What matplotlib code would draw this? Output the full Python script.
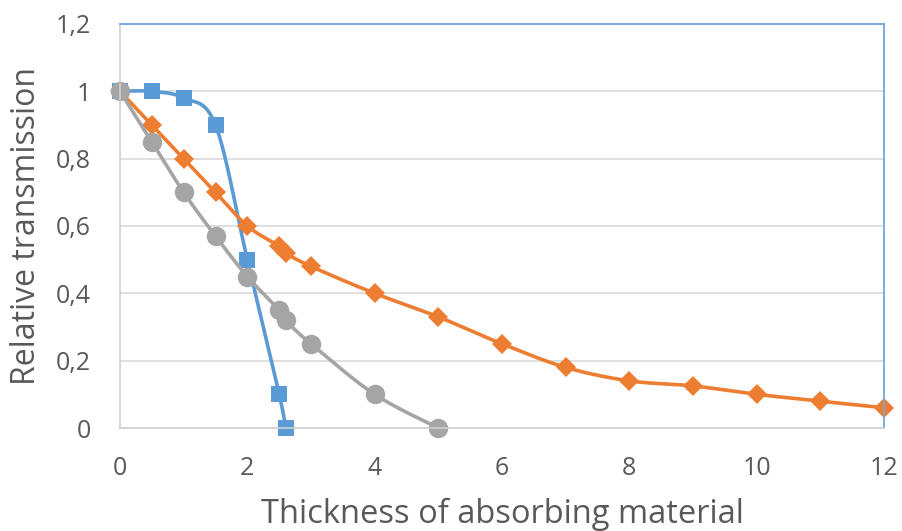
import numpy as np
import matplotlib.pyplot as plt

# Werte
x_blue = [0, 0.5, 1, 1.5, 2, 2.5, 2.6]
y_blue = [1, 1, 0.98, 0.9, 0.5, 0.1, 0]

x_orange = [0, 0.5, 1, 1.5, 2, 2.5, 2.6, 3, 4, 5, 6, 7, 8, 9, 10, 11, 12]
y_orange = [1, 0.9, 0.8, 0.7, 0.6, 0.54, 0.52, 0.48, 0.4, 0.33, 0.25, 0.18, 0.14, 0.125, 0.1, 0.08, 0.06]

x_gray = [0, 0.5, 1, 1.5, 2, 2.5, 2.6, 3, 4, 5]
y_gray = [1, 0.85, 0.7, 0.57, 0.45, 0.35, 0.32, 0.25, 0.1, 0]

y_ticks = [0, 0.2, 0.4, 0.6, 0.8, 1, 1.2]
x_ticks = [0, 2, 4, 6, 8, 10, 12]


def smooth(xs, ys, n=30):
    # Bezier-Glaettung wie in Excel (Catmull-Rom)
    p = np.column_stack([xs, ys]).astype(float)
    p = np.vstack([p[0], p, p[-1]])
    out = []
    t = np.linspace(0, 1, n)[:, None]
    for i in range(1, len(p) - 2):
        p0, p1, p2, p3 = p[i - 1], p[i], p[i + 1], p[i + 2]
        b1 = p1 + (p2 - p0) / 6
        b2 = p2 - (p3 - p1) / 6
        seg = ((1 - t) ** 3) * p1 + 3 * ((1 - t) ** 2) * t * b1 + 3 * (1 - t) * t ** 2 * b2 + t ** 3 * p2
        out.append(seg)
    c = np.vstack(out)
    return c[:, 0], c[:, 1]


plt.rcParams['font.family'] = ['Open Sans', 'DejaVu Sans']

fig = plt.figure(figsize=(9.03, 5.31), dpi=100)
ax = fig.add_axes([120 / 903, 1 - 428 / 531, 764 / 903, 404 / 531])

series = [
    (x_blue, y_blue, '#5B9BD5', 's', 11),
    (x_orange, y_orange, '#ED7D31', 'D', 10),
    (x_gray, y_gray, '#A5A5A5', 'o', 14),
]
for xs, ys, col, mk, ms in series:
    sx, sy = smooth(xs, ys)
    ax.plot(sx, sy, color=col, lw=2.6, clip_on=False, solid_capstyle='round')
    ax.plot(xs, ys, ls='none', marker=mk, color=col, markersize=ms,
            markeredgewidth=0, clip_on=False)

ax.set_xlim(0, 12)
ax.set_ylim(0, 1.2)
ax.set_xticks(x_ticks)
ax.set_yticks(y_ticks)
ax.set_xticklabels([str(v) for v in x_ticks])
ax.set_yticklabels([('%g' % v).replace('.', ',') for v in y_ticks])
ax.tick_params(length=0, labelsize=18, labelcolor='#595959')
ax.tick_params(axis='x', pad=20)
ax.tick_params(axis='y', pad=21)
ax.grid(axis='y', color='#D9D9D9', lw=1.2)
ax.set_axisbelow(True)

for s in ['left', 'bottom']:
    ax.spines[s].set_color('#D0D0D0')
    ax.spines[s].set_linewidth(1.2)
for s in ['top', 'right']:
    ax.spines[s].set_color('#6FA8DC')
    ax.spines[s].set_linewidth(1.3)

ax.set_xlabel('Thickness of absorbing material', fontsize=23.5, color='#595959', va='top')
ax.xaxis.set_label_coords(0.5, -0.172)
ax.set_ylabel('Relative transmission', fontsize=23, color='#595959', va='center')
ax.yaxis.set_label_coords(-0.122, 0.5)

plt.savefig('out.png', dpi=100)
plt.close()
